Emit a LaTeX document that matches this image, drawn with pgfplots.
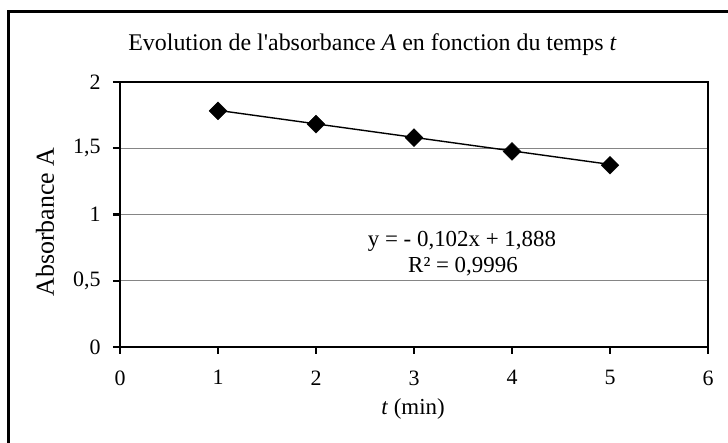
\documentclass[border=0pt]{standalone}
\usepackage{fontspec}
\setmainfont{Liberation Serif}
\newfontfamily\tnr{Liberation Serif}
\usepackage{pgfplots}
\pgfplotsset{compat=1.18}
\begin{document}
\begin{tikzpicture}[x=1bp,y=1bp]
\useasboundingbox (-120,-96) rectangle (608,347);
\draw[line width=3bp] (-111,-110) -- (-111,335) -- (620,335);
\begin{axis}[at={(0,0)}, anchor=south west, scale only axis,
  width=588bp, height=265bp,
  xmin=0, xmax=6, ymin=0, ymax=2,
  xtick={0,1,2,3,4,5,6}, ytick={0,0.5,1,1.5,2},
  yticklabels={0,{0,5},1,{1,5},2},
  xticklabels={0,1,2,3,4,5,6},
  ymajorgrids, grid style={line width=1.3bp, color=black!48},
  axis line style={line width=2.4bp, black},
  tick align=outside, tick pos=left,
  major tick length=7bp,
  every tick/.style={line width=2.4bp, black},
  tick label style={font=\fontsize{22}{26}\selectfont},
  xticklabel style={yshift=-13bp},
  yticklabel style={xshift=-9bp},
  /pgf/number format/assume math mode=true,
  clip=false,
]
\addplot[line width=1.4bp, black] coordinates {(1,1.786) (5,1.378)};
\addplot[only marks, mark=square*, mark size=6.3bp, mark options={rotate=45, fill=black, draw=black}]
  coordinates {(1,1.782) (2,1.682) (3,1.580) (4,1.476) (5,1.372)};
\end{axis}
\node[anchor=base, font=\tnr\fontsize{24}{28}\selectfont] at (252.5,296) {Evolution de l'absorbance \textit{A} en fonction du temps \textit{t}};
\node[anchor=base, font=\fontsize{23}{26}\selectfont] at (293,-68) {\textit{t} (min)};
\node[rotate=90, font=\fontsize{26}{28}\selectfont] at (-75,125) {Absorbance A};
\node[anchor=base, font=\fontsize{23}{26}\selectfont] at (342,100) {y = - 0,102x + 1,888};
\node[anchor=base, font=\fontsize{23}{26}\selectfont] at (343,74) {R² = 0,9996};
\end{tikzpicture}
\end{document}
